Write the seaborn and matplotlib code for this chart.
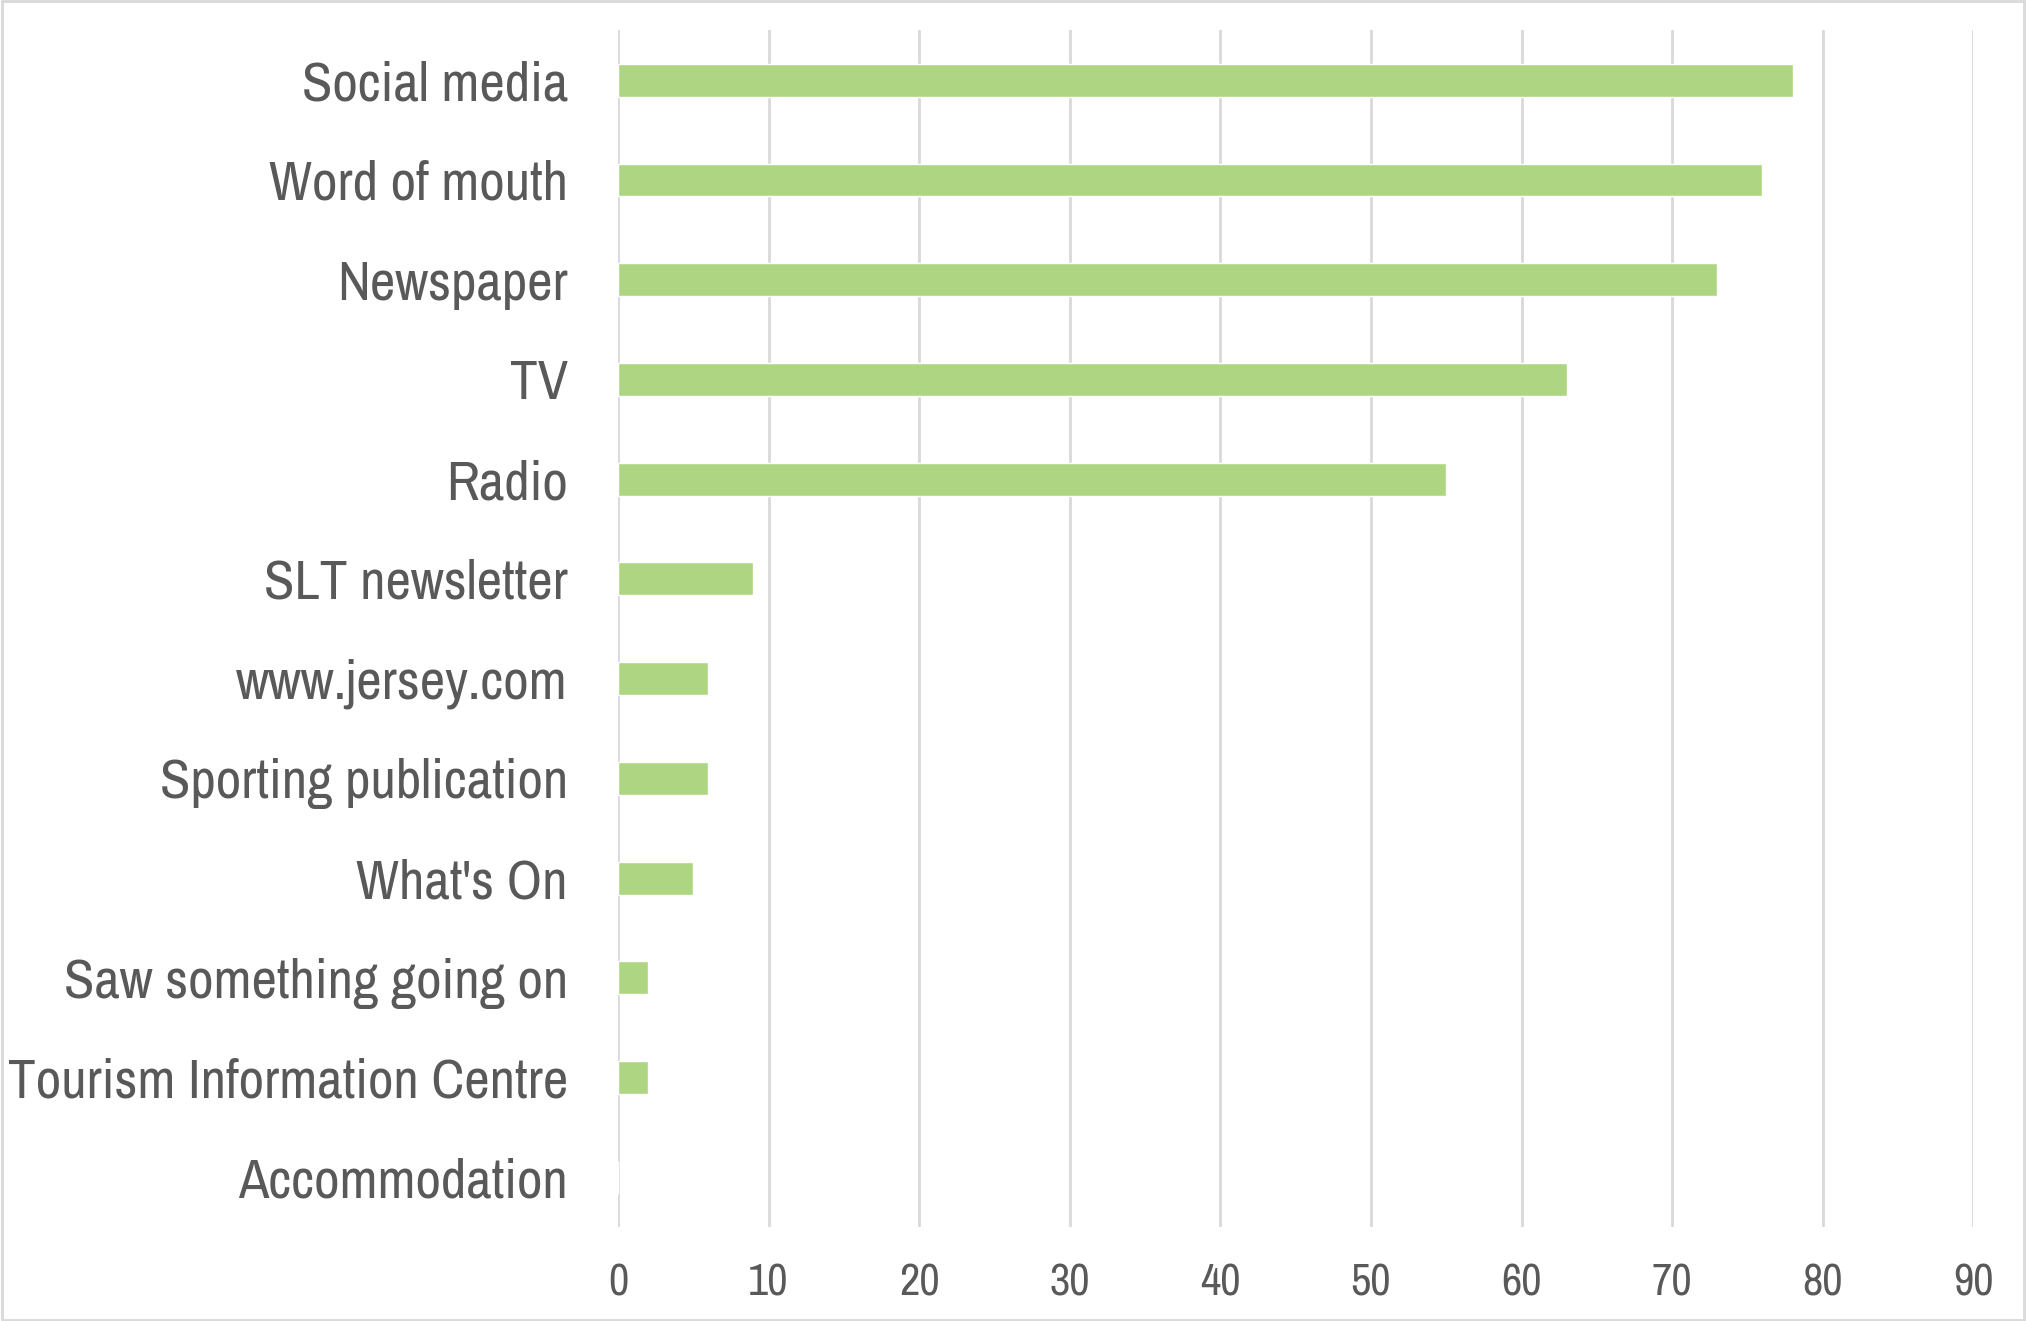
import matplotlib
matplotlib.use("Agg")
import matplotlib.pyplot as plt
from matplotlib import font_manager
import seaborn as sns
import pandas as pd

categories = [
    "Social media", "Word of mouth", "Newspaper", "TV", "Radio",
    "SLT newsletter", "www.jersey.com", "Sporting publication",
    "What's On", "Saw something going on", "Tourism Information Centre",
    "Accommodation",
]
values = [78, 76, 73, 63, 55, 9, 6, 6, 5, 2, 2, 0]
x_ticks = [0, 10, 20, 30, 40, 50, 60, 70, 80, 90]

df = pd.DataFrame({"source": categories, "count": values})

sns.set_theme(style="white")
installed = {f.name for f in font_manager.fontManager.ttflist}
narrow_fonts = ["Liberation Sans Narrow", "Arial Narrow", "Archivo Narrow",
                "Roboto Condensed", "PT Sans Narrow", "Open Sans Condensed"]
family = next((f for f in narrow_fonts if f in installed), "DejaVu Sans")
plt.rcParams["font.family"] = [family, "DejaVu Sans"]

text_color = "#595959"
grid_color = "#d9d9d9"
bar_color = "#aed582"

fig = plt.figure(figsize=(20.26, 13.21), dpi=100)
ax = fig.add_axes([0.305, 0.071, 0.669, 0.906])

sns.barplot(data=df, y="source", x="count", color=bar_color, width=0.33,
            saturation=1, ax=ax, orient="h")

ax.set_xlim(0, 90)
ax.set_ylim(len(categories) - 0.5, -0.5)
ax.set_xticks(x_ticks)
ax.set_xticklabels([str(t) for t in x_ticks])
ax.xaxis.grid(True, color=grid_color, linewidth=2)
ax.set_axisbelow(True)
for s in ax.spines.values():
    s.set_visible(False)
ax.set_xlabel("")
ax.set_ylabel("")
ax.tick_params(axis="y", length=0, pad=36, labelsize=40, labelcolor=text_color)
ax.tick_params(axis="x", length=0, pad=26, labelsize=32, labelcolor=text_color)
for lbl in ax.get_yticklabels():
    lbl.set_y(lbl.get_position()[1])

# thin frame around the whole figure
fig.patches.append(plt.Rectangle((0.001, 0.001), 0.998, 0.998, transform=fig.transFigure,
                                 fill=False, edgecolor="#d9d9d9", linewidth=2))

fig.savefig("out.png", dpi=100, facecolor="white")
